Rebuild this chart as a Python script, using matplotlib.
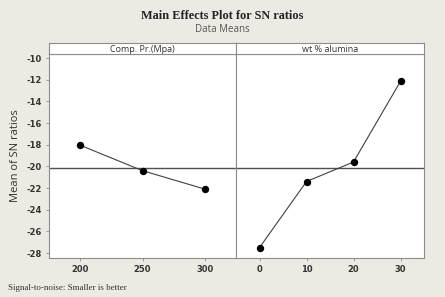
import matplotlib.pyplot as plt

# Данные
pressure_levels = ['200', '250', '300']
pressure_sn = [-18.05, -20.4, -22.1]
alumina_levels = ['0', '10', '20', '30']
alumina_sn = [-27.5, -21.4, -19.6, -12.15]
y_ticks = [-10, -12, -14, -16, -18, -20, -22, -24, -26, -28]

bg = '#EDEAE4'
frame = '#8c8c8c'
grand_mean = sum(pressure_sn) / len(pressure_sn)

fig = plt.figure(figsize=(4.45, 2.97), dpi=100)
fig.patch.set_facecolor(bg)

left, right = 49 / 445, 424 / 445
mid = 236 / 445
bottom, top = 1 - 258 / 297, 1 - 54 / 297
strip_top = 1 - 43 / 297

panels = [
    (left, mid, 'Comp. Pr.(Mpa)', pressure_levels, pressure_sn),
    (mid, right, 'wt % alumina', alumina_levels, alumina_sn),
]

for i, (x0, x1, name, levels, values) in enumerate(panels):
    ax = fig.add_axes([x0, bottom, x1 - x0, top - bottom])
    xs = list(range(len(levels)))
    ax.plot(xs, values, color='#404040', lw=0.8, marker='o', ms=4.3,
            mfc='black', mec='black', zorder=3)
    ax.axhline(grand_mean, color='#505050', lw=1.0, zorder=2)
    ax.set_xlim(-0.5, len(levels) - 0.5)
    ax.set_ylim(-28.46, -9.63)
    ax.set_xticks(xs)
    ax.set_xticklabels(levels, fontsize=6, fontweight='bold', color='#333333')
    ax.set_yticks(y_ticks)
    if i == 0:
        ax.set_yticklabels([str(t) for t in y_ticks], fontsize=6,
                           fontweight='bold', color='#333333')
        ax.set_ylabel('Mean of SN ratios', fontsize=8, color='#333333',
                      family='Open Sans', labelpad=4)
    else:
        ax.tick_params(axis='y', left=False, labelleft=False)
    ax.tick_params(length=2, width=0.6, color=frame, pad=3)
    for s in ax.spines.values():
        s.set_color(frame)
        s.set_linewidth(0.8)

    # Полоса с названием фактора
    sx = fig.add_axes([x0, top, x1 - x0, strip_top - top])
    sx.set_xticks([])
    sx.set_yticks([])
    sx.set_facecolor('white')
    for s in sx.spines.values():
        s.set_color(frame)
        s.set_linewidth(0.8)
    sx.text(0.5, 0.45, name, ha='center', va='center', fontsize=6.5,
            color='#333333', family='Open Sans', transform=sx.transAxes)

fig.text(0.5, 1 - 16 / 297, 'Main Effects Plot for SN ratios', ha='center',
         va='center', fontsize=8.8, fontweight='bold', family='Liberation Serif',
         color='#222222')
fig.text(0.5, 1 - 30 / 297, 'Data Means', ha='center', va='center',
         fontsize=7, family='Open Sans', color='#555555')
fig.text(8 / 445, 1 - 288 / 297, 'Signal-to-noise: Smaller is better',
         ha='left', va='center', fontsize=6.5, family='Liberation Serif',
         color='#333333')

plt.savefig('out.png', dpi=100, facecolor=bg)
plt.close()
